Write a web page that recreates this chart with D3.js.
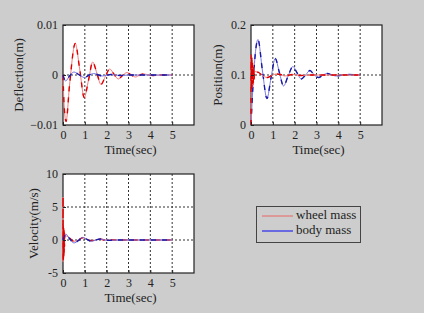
<!DOCTYPE html>
<html>
<head>
<meta charset="utf-8">
<script src="https://cdn.jsdelivr.net/npm/d3@7"></script>
<style>
  html, body { margin: 0; padding: 0; background: #cdcdcd; }
  svg { display: block; }
</style>
</head>
<body>
<div id="chart"></div>
<script>
// time ticks shared by all panels
const timeTicks = [0, 1, 2, 3, 4, 5];

// Deflection (m)
const deflWheelT = [0, 0.05, 0.14, 0.3, 0.56, 0.77, 0.97, 1.17, 1.36, 1.55, 1.74, 1.94, 2.14, 2.33, 2.53, 2.73, 2.93, 3.12, 3.32, 3.52, 3.72, 3.92, 4.12, 4.5, 5];
const deflWheelV = [0, -0.006, -0.0093, -0.002, 0.0063, 0.001, -0.0045, -0.001, 0.0026, 0.0004, -0.0019, -0.0003, 0.0012, 0.0002, -0.0008, -0.0001, 0.0005, 0, -0.0004, 0, 0.0002, 0, -0.0001, 0, 0];
const deflBodyT = [0, 0.12, 0.3, 0.5, 0.75, 0.98, 1.2, 1.4, 1.8, 2.2, 2.6, 3, 5];
const deflBodyV = [0, -0.0012, -0.0002, 0.0006, 0, -0.0005, 0, 0.0003, -0.0002, 0.0001, -0.0001, 0, 0];

// Position (m)
const posWheelT = [0, 0.005, 0.02, 0.035, 0.05, 0.065, 0.08, 0.095, 0.11, 0.125, 0.14, 0.16, 0.2, 0.35, 0.55, 0.75, 0.95, 1.15, 1.35, 1.55, 1.9, 2.3, 2.7, 3.1, 5];
const posWheelV = [0, 0.14, 0.07, 0.135, 0.075, 0.13, 0.08, 0.12, 0.085, 0.115, 0.09, 0.108, 0.107, 0.105, 0.098, 0.095, 0.099, 0.102, 0.101, 0.098, 0.101, 0.099, 0.1, 0.1, 0.1];
const posBodyT = [0, 0.12, 0.32, 0.52, 0.73, 0.92, 1.11, 1.3, 1.49, 1.7, 1.92, 2.1, 2.3, 2.5, 2.7, 2.9, 3.1, 3.3, 3.5, 3.7, 3.9, 4.3, 5];
const posBodyV = [0, 0.1, 0.171, 0.11, 0.053, 0.095, 0.133, 0.105, 0.078, 0.098, 0.117, 0.105, 0.092, 0.1, 0.109, 0.1, 0.095, 0.1, 0.103, 0.1, 0.098, 0.101, 0.1];

// Velocity (m/s)
const velWheelT = [0, 0.002, 0.006, 0.012, 0.02, 0.028, 0.036, 0.044, 0.052, 0.06, 0.07, 0.08, 0.1, 0.15, 0.3, 0.5, 0.7, 0.9, 1.1, 1.3, 1.5, 1.7, 1.9, 2.3, 2.7, 5];
const velWheelV = [0, 6.5, -3.3, 2.1, -3, 1.8, -2.5, 1.5, -2, 1.2, -1, 0.8, 0.5, 0.6, 0.3, -0.2, 0, 0.35, 0.1, -0.1, 0, 0.15, 0, 0, 0, 0];
const velBodyT = [0, 0.13, 0.3, 0.5, 0.7, 0.9, 1.1, 1.3, 1.5, 1.7, 1.9, 2.1, 2.5, 5];
const velBodyV = [0, 0.9, 0.2, -0.45, -0.1, 0.4, 0.1, -0.2, 0, 0.15, 0, -0.05, 0, 0];

const legendLabels = ['wheel mass', 'body mass'];

const W = 424, H = 313;
const svg = d3.select('#chart').append('svg')
    .attr('width', W)
    .attr('height', H);

svg.append('rect').attr('width', W).attr('height', H).attr('fill', '#cdcdcd');

const font = '"Liberation Serif", "Times New Roman", serif';

const panels = [
    { x0: 63, x1: 194, y0: 25, y1: 125, ydom: [-0.01, 0.01], yticks: [-0.01, 0, 0.01], ygrid: [0],
      fmt: d => d === 0 ? '0' : d3.format('.2f')(d), label: 'Deflection(m)', labelX: 20,
      series: [[deflWheelT, deflWheelV, 'r'], [deflBodyT, deflBodyV, 'b']] },
    { x0: 251, x1: 382, y0: 25, y1: 125, ydom: [0, 0.2], yticks: [0, 0.1, 0.2], ygrid: [0.1],
      fmt: d => d === 0 ? '0' : d3.format('.1f')(d), label: 'Position(m)', labelX: 219,
      series: [[posBodyT, posBodyV, 'b'], [posWheelT, posWheelV, 'r']] },
    { x0: 63, x1: 194, y0: 174, y1: 273, ydom: [-5, 10], yticks: [-5, 0, 5, 10], ygrid: [0, 5],
      fmt: d => String(d), label: 'Velocity(m/s)', labelX: 35,
      series: [[velWheelT, velWheelV, 'r'], [velBodyT, velBodyV, 'b']] }
];

const colors = {
    r: { base: '#f27c7c', dash: '#e00000' },
    b: { base: '#7878e6', dash: '#1a1aa4' }
};

panels.forEach(p => {
    const x = d3.scaleLinear().domain([0, 6]).range([p.x0, p.x1]);
    const y = d3.scaleLinear().domain(p.ydom).range([p.y1, p.y0]);
    const g = svg.append('g');

    g.append('rect')
        .attr('x', p.x0).attr('y', p.y0)
        .attr('width', p.x1 - p.x0).attr('height', p.y1 - p.y0)
        .attr('fill', '#ffffff');

    // grid
    timeTicks.slice(1).forEach(t => {
        g.append('line')
            .attr('x1', x(t)).attr('x2', x(t))
            .attr('y1', p.y0).attr('y2', p.y1)
            .attr('stroke', '#333').attr('stroke-width', 1)
            .attr('stroke-dasharray', '2,2');
    });
    p.ygrid.forEach(v => {
        g.append('line')
            .attr('x1', p.x0).attr('x2', p.x1)
            .attr('y1', y(v)).attr('y2', y(v))
            .attr('stroke', '#333').attr('stroke-width', 1)
            .attr('stroke-dasharray', '2,2');
    });

    // frame (drawn under the curves, as in the source figure)
    g.append('rect')
        .attr('x', p.x0).attr('y', p.y0)
        .attr('width', p.x1 - p.x0).attr('height', p.y1 - p.y0)
        .attr('fill', 'none')
        .attr('stroke', '#222').attr('stroke-width', 1.2);

    // curves
    const clipId = 'clip' + p.x0 + '_' + p.y0;
    svg.append('clipPath').attr('id', clipId)
        .append('rect')
        .attr('x', p.x0 - 1).attr('y', p.y0 - 1)
        .attr('width', p.x1 - p.x0 + 2).attr('height', p.y1 - p.y0 + 2);

    p.series.forEach(([ts, vs, c]) => {
        const pts = ts.map((t, i) => [t, vs[i]]);
        const line = d3.line()
            .x(d => x(d[0]))
            .y(d => y(d[1]))
            .curve(d3.curveMonotoneX);
        g.append('path')
            .attr('d', line(pts))
            .attr('clip-path', `url(#${clipId})`)
            .attr('fill', 'none')
            .attr('stroke', colors[c].base)
            .attr('stroke-width', 1);
        g.append('path')
            .attr('d', line(pts))
            .attr('clip-path', `url(#${clipId})`)
            .attr('fill', 'none')
            .attr('stroke', colors[c].dash)
            .attr('stroke-width', 1.4)
            .attr('stroke-dasharray', '5,6');
    });

    // tick labels
    const xa = d3.axisBottom(x).tickValues(timeTicks).tickSize(-3).tickPadding(5).tickFormat(d3.format('d'));
    const xg = g.append('g').attr('transform', `translate(0,${p.y1})`).call(xa);
    const ya = d3.axisLeft(y).tickValues(p.yticks).tickSize(-3).tickPadding(5).tickFormat(p.fmt);
    const yg = g.append('g').attr('transform', `translate(${p.x0},0)`).call(ya);
    [xg, yg].forEach(a => {
        a.select('.domain').remove();
        a.selectAll('.tick line').attr('stroke', '#222');
        a.selectAll('text')
            .attr('fill', '#222')
            .style('font-family', font)
            .style('font-size', '12px');
    });

    g.append('text')
        .attr('x', (p.x0 + p.x1) / 2 + 2)
        .attr('y', p.y1 + 29)
        .attr('text-anchor', 'middle')
        .attr('fill', '#222')
        .style('font-family', font)
        .style('font-size', '13px')
        .text('Time(sec)');

    g.append('text')
        .attr('transform', `translate(${p.labelX},${(p.y0 + p.y1) / 2}) rotate(-90)`)
        .attr('text-anchor', 'middle')
        .attr('dominant-baseline', 'middle')
        .attr('fill', '#222')
        .style('font-family', font)
        .style('font-size', '13px')
        .text(p.label);
});

// legend
const lg = svg.append('g');
lg.append('rect')
    .attr('x', 256.5).attr('y', 206.5)
    .attr('width', 104).attr('height', 36)
    .attr('fill', '#cdcdcd')
    .attr('stroke', '#444').attr('stroke-width', 1);
legendLabels.forEach((lab, i) => {
    const yy = 216 + i * 15;
    lg.append('line')
        .attr('x1', 262).attr('x2', 293)
        .attr('y1', yy).attr('y2', yy)
        .attr('stroke', i === 0 ? '#e86464' : '#6a6ae0')
        .attr('stroke-width', i === 0 ? 1 : 2);
    lg.append('text')
        .attr('x', 296).attr('y', yy)
        .attr('dominant-baseline', 'middle')
        .attr('fill', '#222')
        .style('font-family', font)
        .style('font-size', '13px')
        .text(lab);
});
</script>
</body>
</html>
